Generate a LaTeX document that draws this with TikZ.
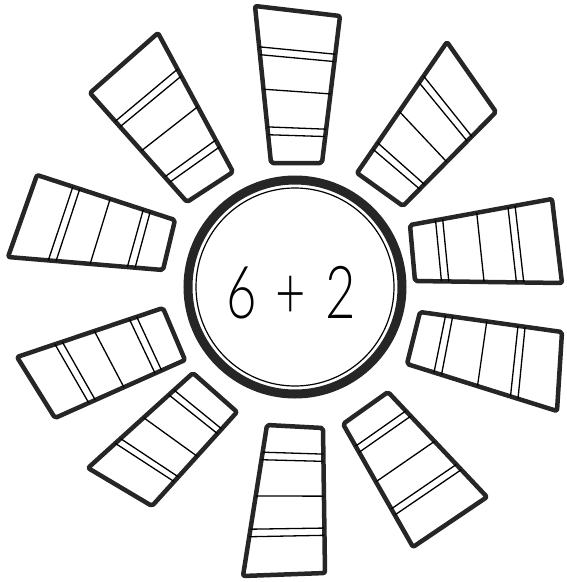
\documentclass[tikz,border=0pt]{standalone}
\usepackage{fontspec}
\usepackage{tikz}
\usetikzlibrary{calc}
\IfFontExistsTF{Lato Light}{\newfontfamily\sumfont[FakeStretch=0.72, WordSpace=1.35]{Lato Light}}{\newfontfamily\sumfont[FakeStretch=0.72, WordSpace=1.35]{Liberation Sans}}

\begin{document}
\begin{tikzpicture}[x=1pt, y=-1pt, every node/.style={font=\sumfont\fontsize{73}{73}\selectfont}]
\tikzset{rayedge/.style={draw=black!85, line width=4.5pt, line join=round, rounded corners=2pt}}
\tikzset{rung/.style={draw=black, line width=1.3pt}}
\tikzset{ring/.style={draw=black!85, line width=9pt}}
\tikzset{pics/ray/.style n args={4}{code={
  \draw[rayedge] #1 -- #2 -- #3 -- #4 -- cycle;
  \draw[rung] ($#4!0.18!#1$) -- ($#3!0.18!#2$);
  \draw[rung] ($#4!0.23!#1$) -- ($#3!0.23!#2$);
  \draw[rung] ($#4!0.47!#1$) -- ($#3!0.47!#2$);
  \draw[rung] ($#4!0.69!#1$) -- ($#3!0.69!#2$);
  \draw[rung] ($#4!0.74!#1$) -- ($#3!0.74!#2$);
}}}
\useasboundingbox (0,0) rectangle (567,582);
% centre
\coordinate (mid) at (295,287);
\draw[ring] (mid) circle[radius=107];
\draw[black, line width=1.2pt] (mid) circle[radius=99];
\node[anchor=base] (sum) at (291,318) {6 + 2};
% rays, clockwise from the top
\pic (rayN) {ray={(255,6)}{(340,16)}{(322,163)}{(271,163)}};
\pic (rayNE) {ray={(447,42)}{(496,112)}{(403,206)}{(357,173)}};
\pic (rayE) {ray={(552,199)}{(562,283)}{(415,281)}{(410,225)}};
\pic (rayESE) {ray={(562,332)}{(557,411)}{(407,364)}{(420,312)}};
\pic (raySE) {ray={(487,497)}{(413,547)}{(343,424)}{(388,392)}};
\pic (rayS) {ray={(325,573)}{(243,576)}{(267,425)}{(323,428)}};
\pic (raySW) {ray={(152,506)}{(88,468)}{(193,373)}{(237,412)}};
\pic (rayWSW) {ray={(55,418)}{(17,357)}{(163,308)}{(185,360)}};
\pic (rayW) {ray={(8,257)}{(37,175)}{(175,220)}{(163,270)}};
\pic (rayNW) {ray={(90,93)}{(158,33)}{(233,172)}{(187,202)}};
\end{tikzpicture}
\end{document}
